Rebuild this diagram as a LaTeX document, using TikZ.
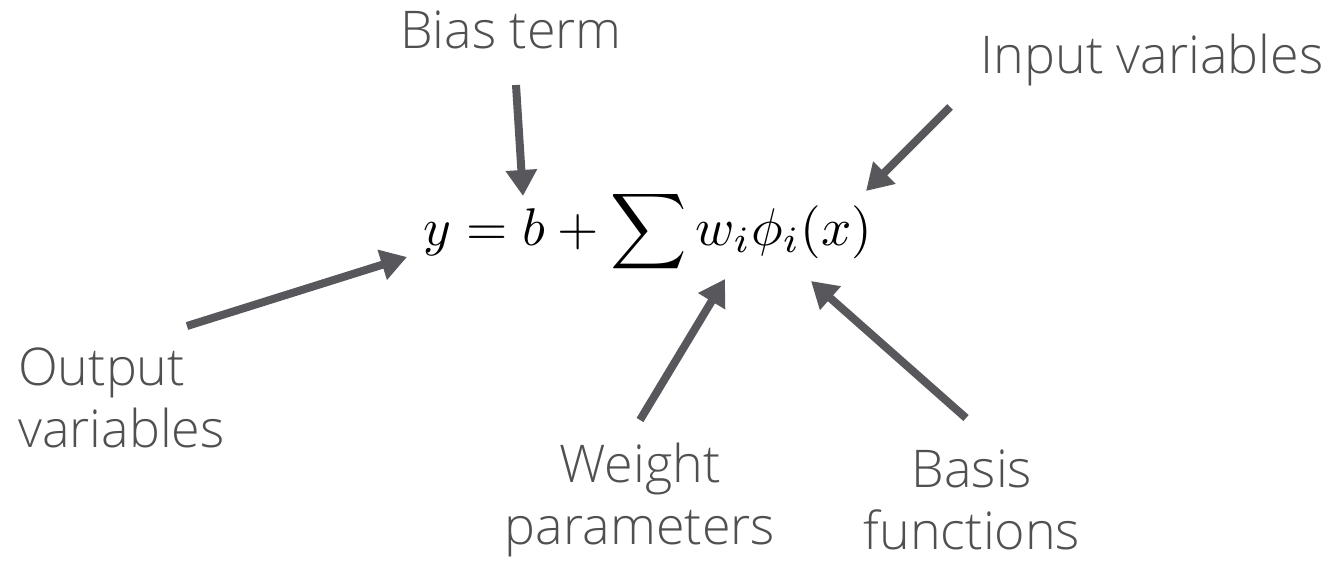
\documentclass[tikz,border=0pt]{standalone}
\usepackage{graphicx}
\usepackage{fontspec}
\setmainfont{Open Sans}[UprightFont=* Light]
\usetikzlibrary{arrows.meta}
\definecolor{arr}{HTML}{58575C}
\definecolor{txt}{HTML}{505050}
\tikzset{
  lbl/.style={text=txt, font=\fontsize{52}{62}\selectfont, inner sep=0pt, align=center},
  arrw/.style={draw=arr, line width=8pt, -{Triangle[length=26pt,width=30pt]}},
}
\begin{document}
\begin{tikzpicture}[x=1pt,y=-1pt]
\useasboundingbox (0,0) rectangle (1336,563);
\node[inner sep=0pt, anchor=base] (eq) at (648,245) {\resizebox{448pt}{!}{$\displaystyle y = b + \sum w_i\phi_i(x)$}};
\node[lbl] (bias) at (511,30) {Bias term};
\node[lbl] (input) at (1152,60) {Input variables};
\node[lbl, align=left, anchor=west] (output) at (18,398) {Output\\variables};
\node[lbl] (weight) at (640,500) {Weight\\parameters};
\node[lbl] (basis) at (972,500) {Basis\\functions};
\coordinate (b1) at (516,85); \coordinate (b2) at (523,196);
\coordinate (i1) at (950,107); \coordinate (i2) at (866,191);
\coordinate (o1) at (187,326); \coordinate (o2) at (407,257);
\coordinate (w1) at (640,420); \coordinate (w2) at (725,279);
\coordinate (f1) at (966,418); \coordinate (f2) at (811,281);
\draw[arrw] (b1) -- (b2);
\draw[arrw] (i1) -- (i2);
\draw[arrw] (o1) -- (o2);
\draw[arrw] (w1) -- (w2);
\draw[arrw] (f1) -- (f2);
\end{tikzpicture}
\end{document}
